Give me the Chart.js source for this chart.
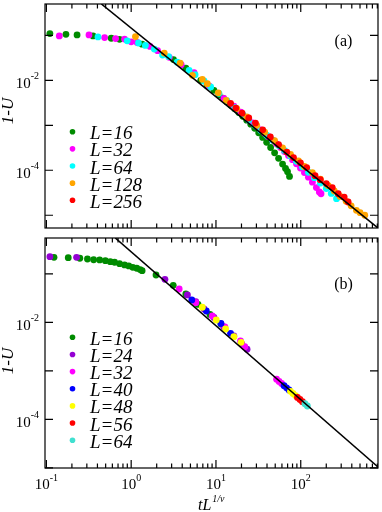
<!DOCTYPE html>
<html>
<head>
<meta charset="utf-8">
<script src="https://cdn.jsdelivr.net/npm/chart.js@4.4.1/dist/chart.umd.min.js"></script>
<style>
  body { margin: 0; background: #fff; }
  #wrap { position: relative; width: 382px; height: 512px; }
  canvas { position: absolute; left: 0; }
</style>
</head>
<body>
<div id="wrap">
  <canvas id="chartA" width="382" height="232" style="top:0;width:382px;height:232px"></canvas>
  <canvas id="chartB" width="382" height="280" style="top:232px;width:382px;height:280px"></canvas>
</div>
<script>
// ---- panel (a): 1-U against tL^(1/nu), points [x, y]
const a16 = [[0.110,0.109],[0.170,0.105],[0.230,0.102],[0.355,0.0970],[0.582,0.0859],[0.729,0.0813],[1.346,0.0635],[3.158,0.0289],[4.414,0.0186],[6.616,0.0100],[7.844,0.00769],[9.474,0.00597],[10.84,0.00476],[12.08,0.00399],[13.46,0.00334],[14.99,0.00280],[16.70,0.00232],[18.61,0.00192],[20.73,0.00158],[23.09,0.00130],[25.73,0.00106],[28.66,0.000855],[31.92,0.000681],[35.56,0.000537],[39.62,0.000417],[44.14,0.000321],[49.17,0.000244],[54.78,0.000184],[61.02,0.000137],[66.17,0.000110],[69.85,9.27e-5],[73.71,7.31e-5]];
const a32 = [[0.142,0.0970],[0.318,0.102],[0.486,0.0890],[0.655,0.0847],[0.835,0.0825],[1.000,0.0717],[1.176,0.0692],[1.670,0.0565],[2.050,0.0455],[2.812,0.0324],[3.888,0.0222],[5.523,0.0147],[8.279,0.00750],[12.41,0.00395],[16.26,0.00266],[19.64,0.00197],[24.37,0.00135],[27.15,0.00113],[30.25,0.000946],[33.70,0.000793],[37.54,0.000664],[41.81,0.000557],[46.59,0.000466],[51.89,0.000387],[57.81,0.000319],[64.41,0.000261],[71.75,0.000213],[79.93,0.000172],[89.04,0.000139],[99.19,0.000112],[110.5,8.90e-5],[123.1,7.02e-5],[137.2,5.45e-5],[152.8,4.13e-5],[165.7,3.29e-5],[173.5,3.01e-5]];
const a64 = [[0.406,0.0922],[0.898,0.0754],[1.218,0.0674],[1.471,0.0594],[1.876,0.0493],[2.347,0.0364],[2.760,0.0336],[3.490,0.0252],[4.825,0.0166],[5.674,0.0133],[7.234,0.00965],[8.667,0.00713],[10.84,0.00513],[13.46,0.00352],[16.70,0.00247],[20.73,0.00173],[24.37,0.00131],[28.66,0.00102],[33.70,0.000773],[39.62,0.000601],[46.59,0.000466],[54.78,0.000353],[64.41,0.000274],[75.73,0.000208],[89.04,0.000158],[104.7,0.000119],[123.1,9.04e-5],[144.8,6.84e-5],[170.2,5.19e-5],[200.1,3.93e-5],[229.1,3.05e-5],[264.2,2.34e-5]];
const a128 = [[1.123,0.0937],[2.457,0.0403],[3.784,0.0240],[5.275,0.0129],[6.909,0.01052],[7.907,0.00842],[10.64,0.00527],[13.21,0.00357],[17.63,0.00235],[23.09,0.00153],[30.25,0.000995],[37.54,0.000699],[49.17,0.000455],[61.02,0.000315],[75.73,0.000224],[93.98,0.000162],[110.5,0.000122],[137.2,8.81e-5],[170.2,6.35e-5],[211.2,4.57e-5],[248.4,3.46e-5],[292.1,2.62e-5],[343.5,2.04e-5],[393.0,1.62e-5],[453.4,1.29e-5],[501.1,1.14e-5],[568.9,1.00e-5]];
const a256 = [[14.87,0.00307],[17.16,0.00241],[20.34,0.00185],[24.37,0.00145],[29.21,0.00112],[35.56,0.000793],[43.78,0.000551],[54.78,0.000372],[68.54,0.000254],[82.11,0.000191],[99.19,0.000146],[117.6,0.000115],[147.5,7.57e-5],[170.2,6.19e-5],[200.1,5.06e-5],[235.3,4.13e-5],[276.7,3.01e-5],[325.3,2.53e-5],[362.4,1.97e-5]];
const fitA = [[0.445,0.496],[815,5.21e-6]];

// ---- panel (b)
const b16 = [[0.123,0.219],[0.181,0.215],[0.248,0.209],[0.305,0.202],[0.361,0.195],[0.425,0.193],[0.496,0.186],[0.567,0.178],[0.637,0.173],[0.729,0.162],[0.835,0.152],[0.937,0.145],[1.044,0.136],[1.163,0.130],[1.275,0.122],[1.346,0.116],[1.964,0.0945],[3.133,0.0579],[4.414,0.0383],[6.152,0.0233],[8.506,0.0145],[11.45,0.00923]];
const b24 = [[0.110,0.225],[0.227,0.219],[2.503,0.0770],[4.608,0.0366],[5.781,0.0266],[7.234,0.0188],[9.474,0.0126],[12.41,0.00800],[16.26,0.00522],[20.17,0.00357],[23.28,0.00278]];
const b32 = [[3.684,0.0486],[5.781,0.0254],[9.05,0.0135],[12.75,0.00800],[19.48,0.00412],[21.88,0.00314],[51.89,6.71e-4],[55.52,6.04e-4],[59.38,5.47e-4]];
const b40 = [[5.189,0.0288],[7.696,0.0171],[11.45,0.00945],[14.87,0.00593],[63.55,4.93e-4],[67.98,4.46e-4],[72.72,4.02e-4]];
const b48 = [[6.909,0.0204],[10.08,0.01115],[12.99,0.00728],[16.26,0.00505],[19.80,0.00387],[75.73,3.78e-4],[81.01,3.40e-4],[86.69,3.08e-4]];
const b56 = [[91.48,2.83e-4],[97.87,2.56e-4],[104.7,2.31e-4]];
const b64 = [[112.0,2.09e-4],[119.8,1.88e-4]];
const fitB = [[0.649,0.547],[815,1.04e-5]];

const labelsA = ['L=16', 'L=32', 'L=64', 'L=128', 'L=256'];
const labelsB = ['L=16', 'L=24', 'L=32', 'L=40', 'L=48', 'L=56', 'L=64'];

// ticks
const xMajor = [0.1, 1, 10, 100];
const xTickLabels = [[0.1, '-1'], [1, '0'], [10, '1'], [100, '2']];
const yMajor = [1e-5, 1e-4, 1e-3, 1e-2, 1e-1];
const yTickLabels = [[1e-2, '-2'], [1e-4, '-4']];

const xMinor = [];
xMajor.forEach(d => { for (let k = 2; k <= 9; k++) xMinor.push(d * k); });

const serif = '"Liberation Serif", "Times New Roman", serif';
const C = {
    green: 'rgb(0,139,0)', magenta: '#ff00ff', cyan: '#00ffff', orange: '#ffa500',
    red: '#ff0000', violet: 'rgb(148,0,211)', blue: '#0000ff', yellow: '#ffff00',
    turquoise: 'rgb(64,224,208)'
};

const framePlugin = {
    id: 'frame',
    afterDraw(chart, args, o) {
        const { ctx, chartArea: a } = chart;
        const sx = chart.scales.x, sy = chart.scales.y;
        ctx.save();
        ctx.strokeStyle = '#000';
        ctx.lineWidth = 1.2;
        ctx.beginPath();
        const seg = (x1, y1, x2, y2) => { ctx.moveTo(x1, y1); ctx.lineTo(x2, y2); };
        xMajor.forEach(v => {
            const p = sx.getPixelForValue(v);
            if (p < a.left || p > a.right) return;
            seg(p, a.bottom, p, a.bottom - 8); seg(p, a.top, p, a.top + 8);
        });
        xMinor.forEach(v => {
            const p = sx.getPixelForValue(v);
            if (p < a.left || p > a.right) return;
            seg(p, a.bottom, p, a.bottom - 4.5); seg(p, a.top, p, a.top + 4.5);
        });
        yMajor.forEach(v => {
            const p = sy.getPixelForValue(v);
            if (p < a.top || p > a.bottom) return;
            seg(a.left, p, a.left + 8, p); seg(a.right, p, a.right - 8, p);
        });
        ctx.stroke();
        ctx.strokeRect(a.left, a.top, a.right - a.left, a.bottom - a.top);

        ctx.fillStyle = '#000';
        // y tick labels
        yTickLabels.forEach(([v, e]) => {
            const p = sy.getPixelForValue(v);
            ctx.textAlign = 'right';
            ctx.font = '10px ' + serif;
            const ew = ctx.measureText(e).width;
            ctx.fillText(e, a.left - 6, p - 1.5);
            ctx.font = '15px ' + serif;
            ctx.fillText('10', a.left - 6 - ew, p + 7.5);
        });
        // x tick labels
        if (o.xLabels) {
            xTickLabels.forEach(([v, e]) => {
                const p = sx.getPixelForValue(v);
                ctx.font = '15px ' + serif;
                const bw = ctx.measureText('10').width;
                ctx.font = '10px ' + serif;
                const ew = ctx.measureText(e).width;
                const s = p - (bw + ew) / 2;
                ctx.textAlign = 'left';
                ctx.font = '15px ' + serif;
                ctx.fillText('10', s, a.bottom + 21);
                ctx.font = '10px ' + serif;
                ctx.fillText(e, s + bw, a.bottom + 13);
            });
            ctx.textAlign = 'left';
            ctx.font = 'italic 16px ' + serif;
            ctx.fillText('tL', 198, a.bottom + 42);
            const tw = ctx.measureText('tL').width;
            ctx.font = 'italic 10px ' + serif;
            ctx.fillText('1/\u03bd', 198 + tw + 1, a.bottom + 34);
        }
        // y title
        ctx.save();
        ctx.translate(12.5, o.yTitleY);
        ctx.rotate(-Math.PI / 2);
        ctx.textAlign = 'center';
        ctx.font = 'italic 17px ' + serif;
        ctx.fillText('1-U', 0, 0);
        ctx.restore();
        // panel tag
        ctx.textAlign = 'center';
        ctx.textBaseline = 'middle';
        ctx.font = '16px ' + serif;
        ctx.fillText(o.tag, 343.5, o.tagY);
        ctx.textBaseline = 'alphabetic';
        // legend
        ctx.textAlign = 'left';
        ctx.font = 'italic 19px ' + serif;
        chart.data.datasets.filter(d => d.label).forEach((d, i) => {
            const y = o.legendY + i * 17.15;
            ctx.fillStyle = d.backgroundColor;
            ctx.beginPath();
            ctx.arc(72.5, y, 2.8, 0, Math.PI * 2);
            ctx.fill();
            ctx.fillStyle = '#000';
            ctx.fillText(d.label, 90, y + 7.5);
        });
        ctx.restore();
    }
};

function makePanel(id, series, labels, colors, fit, yMin, yMax, opt) {
    const n = series.length;
    const datasets = series.map((s, i) => ({
        label: labels[i],
        data: s,
        backgroundColor: colors[i],
        borderWidth: 0,
        pointRadius: 3.4,
        pointBorderWidth: 0,
        order: n - i
    }));
    datasets.push({
        label: '',
        data: fit,
        showLine: true,
        borderColor: '#000',
        borderWidth: 1.6,
        pointRadius: 0,
        order: 0
    });
    return new Chart(document.getElementById(id), {
        type: 'scatter',
        data: { datasets },
        options: {
            responsive: false,
            animation: false,
            layout: { padding: opt.padding },
            plugins: { legend: { display: false }, tooltip: { enabled: false }, frame: opt },
            scales: {
                x: {
                    type: 'logarithmic', min: 0.0963, max: 815,
                    ticks: { display: false }, grid: { display: false }, border: { display: false },
                    afterFit: s => { s.height = opt.xHeight; }
                },
                y: {
                    type: 'logarithmic', min: yMin, max: yMax,
                    ticks: { display: false }, grid: { display: false }, border: { display: false },
                    afterFit: s => { s.width = 45; }
                }
            }
        },
        plugins: [framePlugin]
    });
}

makePanel('chartA', [a16, a32, a64, a128, a256], labelsA,
    [C.green, C.magenta, C.cyan, C.orange, C.red], fitA, 5.21e-6, 0.496,
    { padding: { top: 1, right: 2, bottom: 4, left: 0 }, xHeight: 0, xLabels: false,
      tag: '(a)', tagY: 42, yTitleY: 111, legendY: 131.7 });

makePanel('chartB', [b16, b24, b32, b40, b48, b56, b64], labelsB,
    [C.green, C.violet, C.magenta, C.blue, C.yellow, C.red, C.turquoise], fitB, 9.9e-6, 0.547,
    { padding: { top: 6, right: 2, bottom: 0, left: 0 }, xHeight: 44, xLabels: true,
      tag: '(b)', tagY: 53, yTitleY: 129, legendY: 105.3 });
</script>
</body>
</html>
